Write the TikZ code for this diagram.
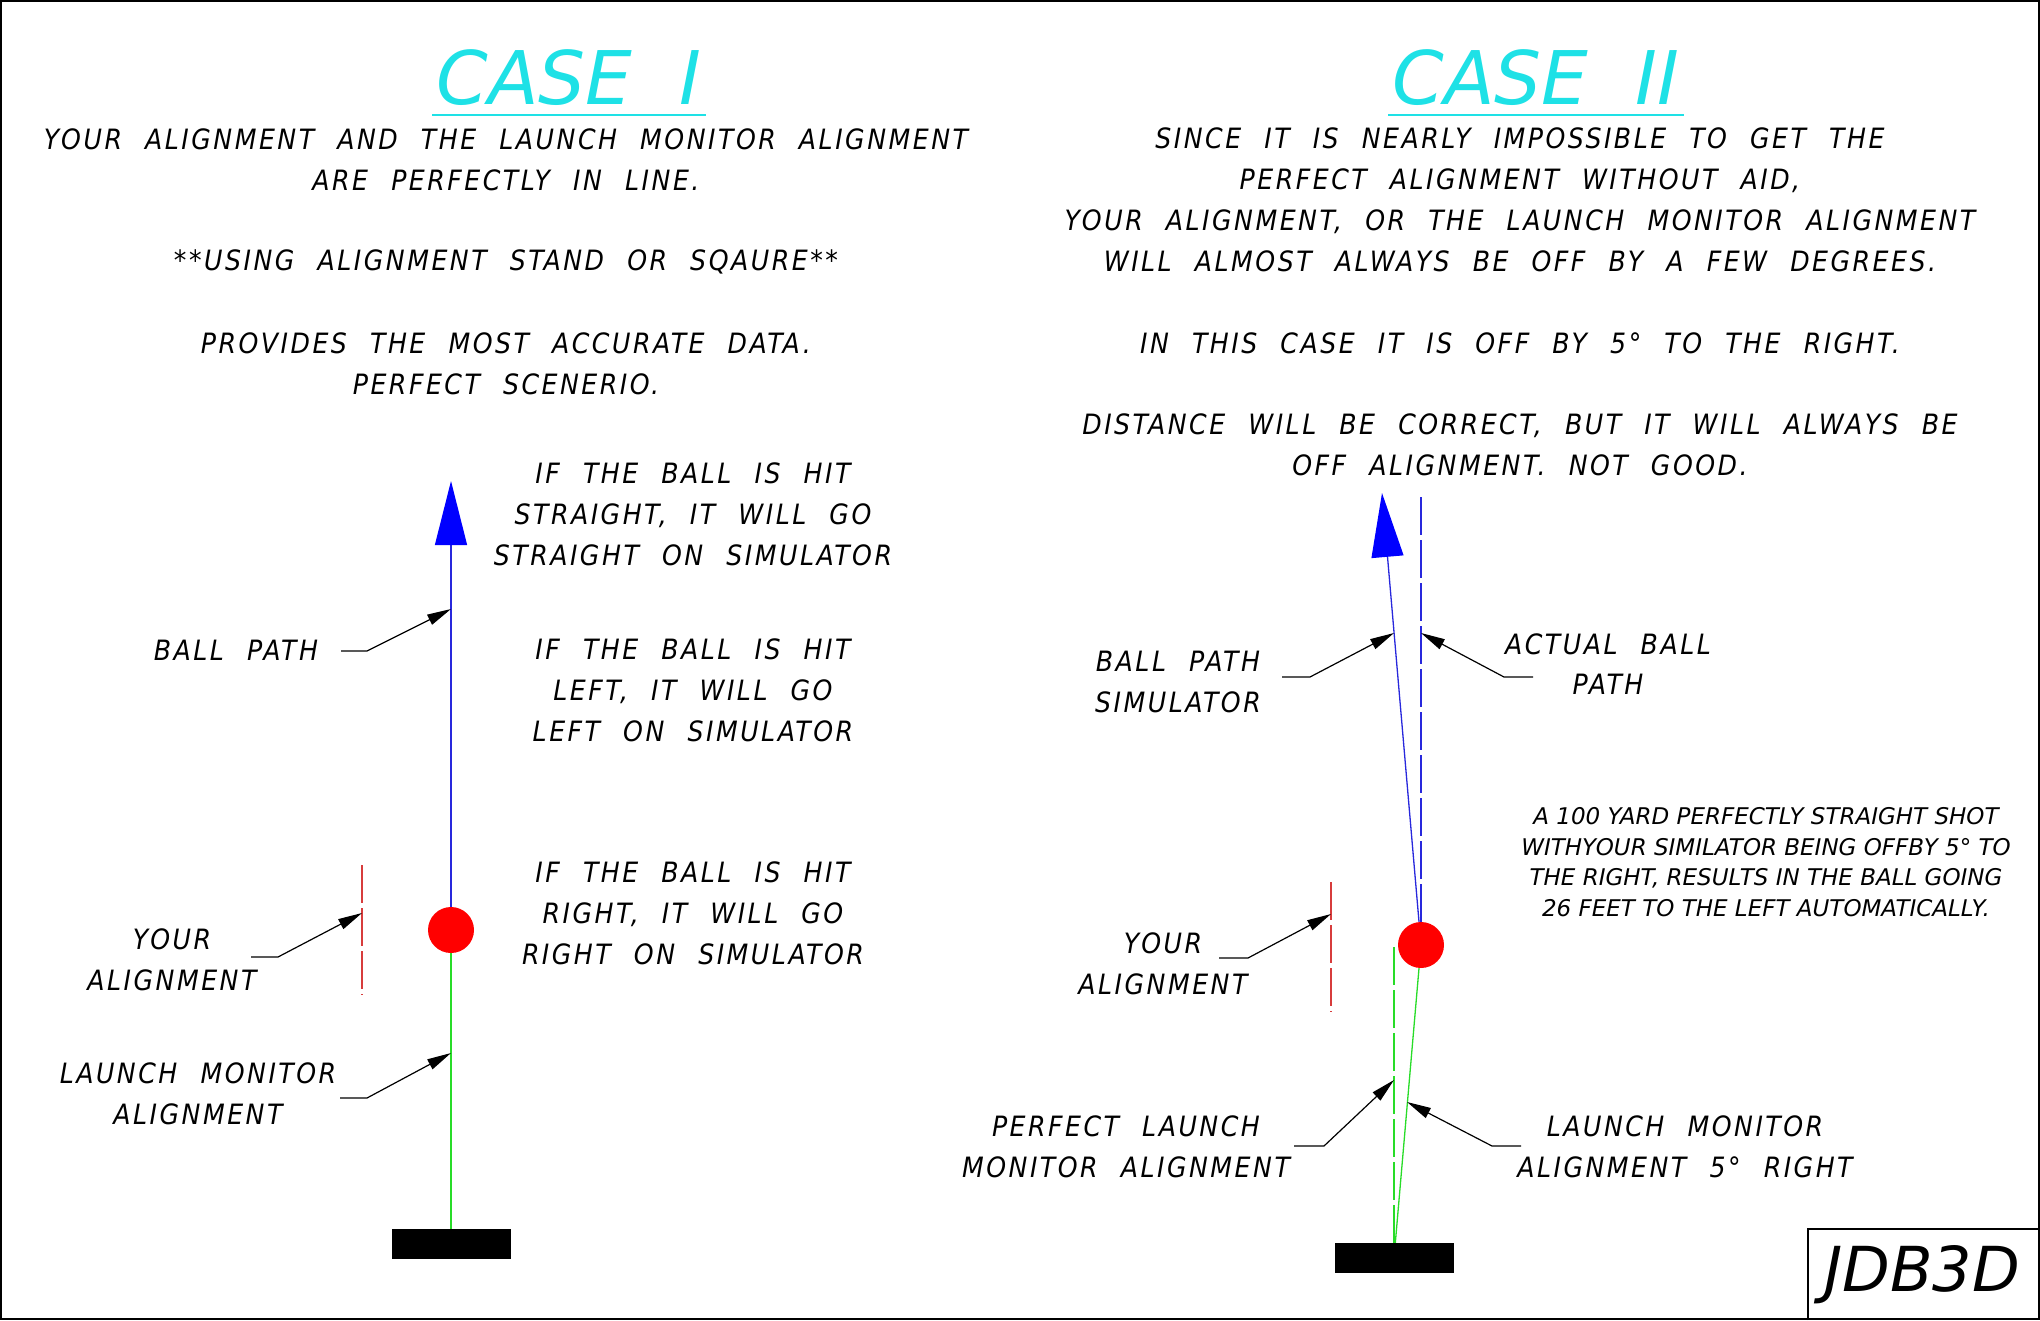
\documentclass[tikz,border=0pt]{standalone}
\usepackage{fontspec}
\usetikzlibrary{arrows.meta}
\newfontfamily\isofont{DejaVu Sans Condensed Oblique}[LetterSpace=9,WordSpace=2.2]
\newfontfamily\titlefont{DejaVu Sans Oblique}
\newcommand\isotext{\fontsize{28}{40.8}\selectfont\isofont}
\newcommand\notetext{\fontsize{23}{30.5}\selectfont\titlefont}
\definecolor{titlecyan}{RGB}{30,225,230}
\definecolor{pathblue}{RGB}{40,40,220}
\definecolor{arrowblue}{RGB}{0,0,255}
\definecolor{lmgreen}{RGB}{40,220,40}
\definecolor{aimred}{RGB}{215,60,60}

\begin{document}
\begin{tikzpicture}[x=1pt,y=-1pt,
  txt/.style={font=\isotext,align=center,inner sep=0pt},
  ttl/.style={font=\fontsize{74}{80}\selectfont\titlefont,text=titlecyan,inner ysep=0pt,inner xsep=4pt,anchor=base},
  ball/.style={circle,fill=red,minimum size=46pt,inner sep=0pt},
  lmbox/.style={fill=black,minimum width=119pt,minimum height=30pt,inner sep=0pt},
  leader/.style={line width=1.2pt,-{Triangle[length=24pt,width=11pt]}},
  bpath/.style={pathblue,line width=1.3pt,-{Triangle[length=64pt,width=32pt,color=arrowblue]}},
  lmline/.style={lmgreen,line width=1.3pt},
  aim/.style={aimred,line width=1.3pt,dash pattern=on 38pt off 5pt}]
  \useasboundingbox (0,0) rectangle (2040,1320);
  \draw[line width=2pt] (1,1) rectangle (2039,1319);

  % titles
  \node[ttl] (ttlL) at (569,104) {CASE~~I};
  \node[ttl] (ttlR) at (1536,104) {CASE~~II};
  \draw[titlecyan,line width=1.5pt] ([yshift=-11pt]ttlL.base west) -- ([yshift=-11pt]ttlL.base east);
  \draw[titlecyan,line width=1.5pt] ([yshift=-11pt]ttlR.base west) -- ([yshift=-11pt]ttlR.base east);

  \node[txt] (hdL1) at (506,160) {YOUR ALIGNMENT AND THE LAUNCH MONITOR ALIGNMENT\\ARE PERFECTLY IN LINE.};
  \node[txt] (hdL2) at (506,262) {**USING ALIGNMENT STAND OR SQAURE**};
  \node[txt] (hdL3) at (506,364) {PROVIDES THE MOST ACCURATE DATA.\\PERFECT SCENERIO.};

  \node[txt] (hdR1) at (1520,200) {SINCE IT IS NEARLY IMPOSSIBLE TO GET THE\\PERFECT ALIGNMENT WITHOUT AID,\\YOUR ALIGNMENT, OR THE LAUNCH MONITOR ALIGNMENT\\WILL ALMOST ALWAYS BE OFF BY A FEW DEGREES.};
  \node[txt] (hdR2) at (1520,343) {IN THIS CASE IT IS OFF BY 5° TO THE RIGHT.};
  \node[txt] (hdR3) at (1520,445) {DISTANCE WILL BE CORRECT, BUT IT WILL ALWAYS BE\\OFF ALIGNMENT. NOT GOOD.};

  % case I
  \node[ball] (ballL) at (451,930) {};
  \node[lmbox] (monL) at (451,1244) {};
  \coordinate (tipL) at (451,481);
  \draw[bpath] (ballL) -- (tipL);
  \draw[lmline] (monL) -- (ballL);
  \coordinate (aimLa) at (362,865);
  \coordinate (aimLb) at (362,995);
  \draw[aim] (aimLa) -- (aimLb);

  \node[txt] (hitS) at (693,514) {IF THE BALL IS HIT\\STRAIGHT, IT WILL GO\\STRAIGHT ON SIMULATOR};
  \node[txt] (hitL) at (693,690) {IF THE BALL IS HIT\\LEFT, IT WILL GO\\LEFT ON SIMULATOR};
  \node[txt] (hitR) at (693,913) {IF THE BALL IS HIT\\RIGHT, IT WILL GO\\RIGHT ON SIMULATOR};

  \node[txt] (lbBall) at (236,650) {BALL PATH};
  \node[txt] (lbAimL) at (172,960) {YOUR\\ALIGNMENT};
  \node[txt] (lbMonL) at (198,1094) {LAUNCH MONITOR\\ALIGNMENT};
  \coordinate (lbBallS) at (341,651);
  \coordinate (lbAimLS) at (251,957);
  \coordinate (lbMonLS) at (340,1098);
  \coordinate (lbBallT) at (451,609);
  \coordinate (lbAimLT) at (362,913);
  \coordinate (lbMonLT) at (451,1053);
  \draw[leader] (lbBallS) -- ++(26,0) -- (lbBallT);
  \draw[leader] (lbAimLS) -- ++(27,0) -- (lbAimLT);
  \draw[leader] (lbMonLS) -- ++(27,0) -- (lbMonLT);

  % case II
  \node[ball] (ballR) at (1421,945) {};
  \node[lmbox] (monR) at (1394,1258) {};
  \coordinate (tipR) at (1382,493);
  \coordinate (actTop) at (1421,493);
  \coordinate (perfTop) at (1394,946);
  \draw[pathblue,line width=1.3pt,dash pattern=on 38pt off 5pt] (ballR) -- (actTop);
  \draw[bpath] (ballR) -- (tipR);
  \draw[lmline,dash pattern=on 38pt off 5pt] (monR) -- (perfTop);
  \draw[lmline] (monR) -- (ballR);
  \coordinate (aimRa) at (1331,882);
  \coordinate (aimRb) at (1331,1012);
  \draw[aim] (aimRa) -- (aimRb);

  \node[txt] (lbSim) at (1178,682) {BALL PATH\\SIMULATOR};
  \node[txt] (lbAct) at (1608,664) {ACTUAL BALL\\PATH};
  \node[txt] (lbAimR) at (1163,964) {YOUR\\ALIGNMENT};
  \node[txt] (lbPerf) at (1126,1147) {PERFECT LAUNCH\\MONITOR ALIGNMENT};
  \node[txt] (lbMonR) at (1685,1147) {LAUNCH MONITOR\\ALIGNMENT 5° RIGHT};
  \coordinate (lbSimS) at (1282,677);
  \coordinate (lbActS) at (1533,677);
  \coordinate (lbAimRS) at (1219,958);
  \coordinate (lbPerfS) at (1294,1146);
  \coordinate (lbMonRS) at (1521,1146);
  \coordinate (lbSimT) at (1394,633);
  \coordinate (lbActT) at (1421,633);
  \coordinate (lbAimRT) at (1331,914);
  \coordinate (lbPerfT) at (1394,1080);
  \coordinate (lbMonRT) at (1407,1102);
  \draw[leader] (lbSimS) -- ++(28,0) -- (lbSimT);
  \draw[leader] (lbActS) -- ++(-29,0) -- (lbActT);
  \draw[leader] (lbAimRS) -- ++(29,0) -- (lbAimRT);
  \draw[leader] (lbPerfS) -- ++(30,0) -- (lbPerfT);
  \draw[leader] (lbMonRS) -- ++(-29,0) -- (lbMonRT);

  \node[font=\notetext,align=center,inner sep=0pt] (note) at (1766,862) {A 100 YARD PERFECTLY STRAIGHT SHOT\\WITHYOUR SIMILATOR BEING OFFBY 5° TO\\THE RIGHT, RESULTS IN THE BALL GOING\\26 FEET TO THE LEFT AUTOMATICALLY.};

  \draw[line width=1.5pt] (1808,1320) |- (2040,1229);
  \node[font=\fontsize{62}{68}\selectfont\titlefont,anchor=base] (jdb) at (1922,1291) {JDB3D};
\end{tikzpicture}
\end{document}
